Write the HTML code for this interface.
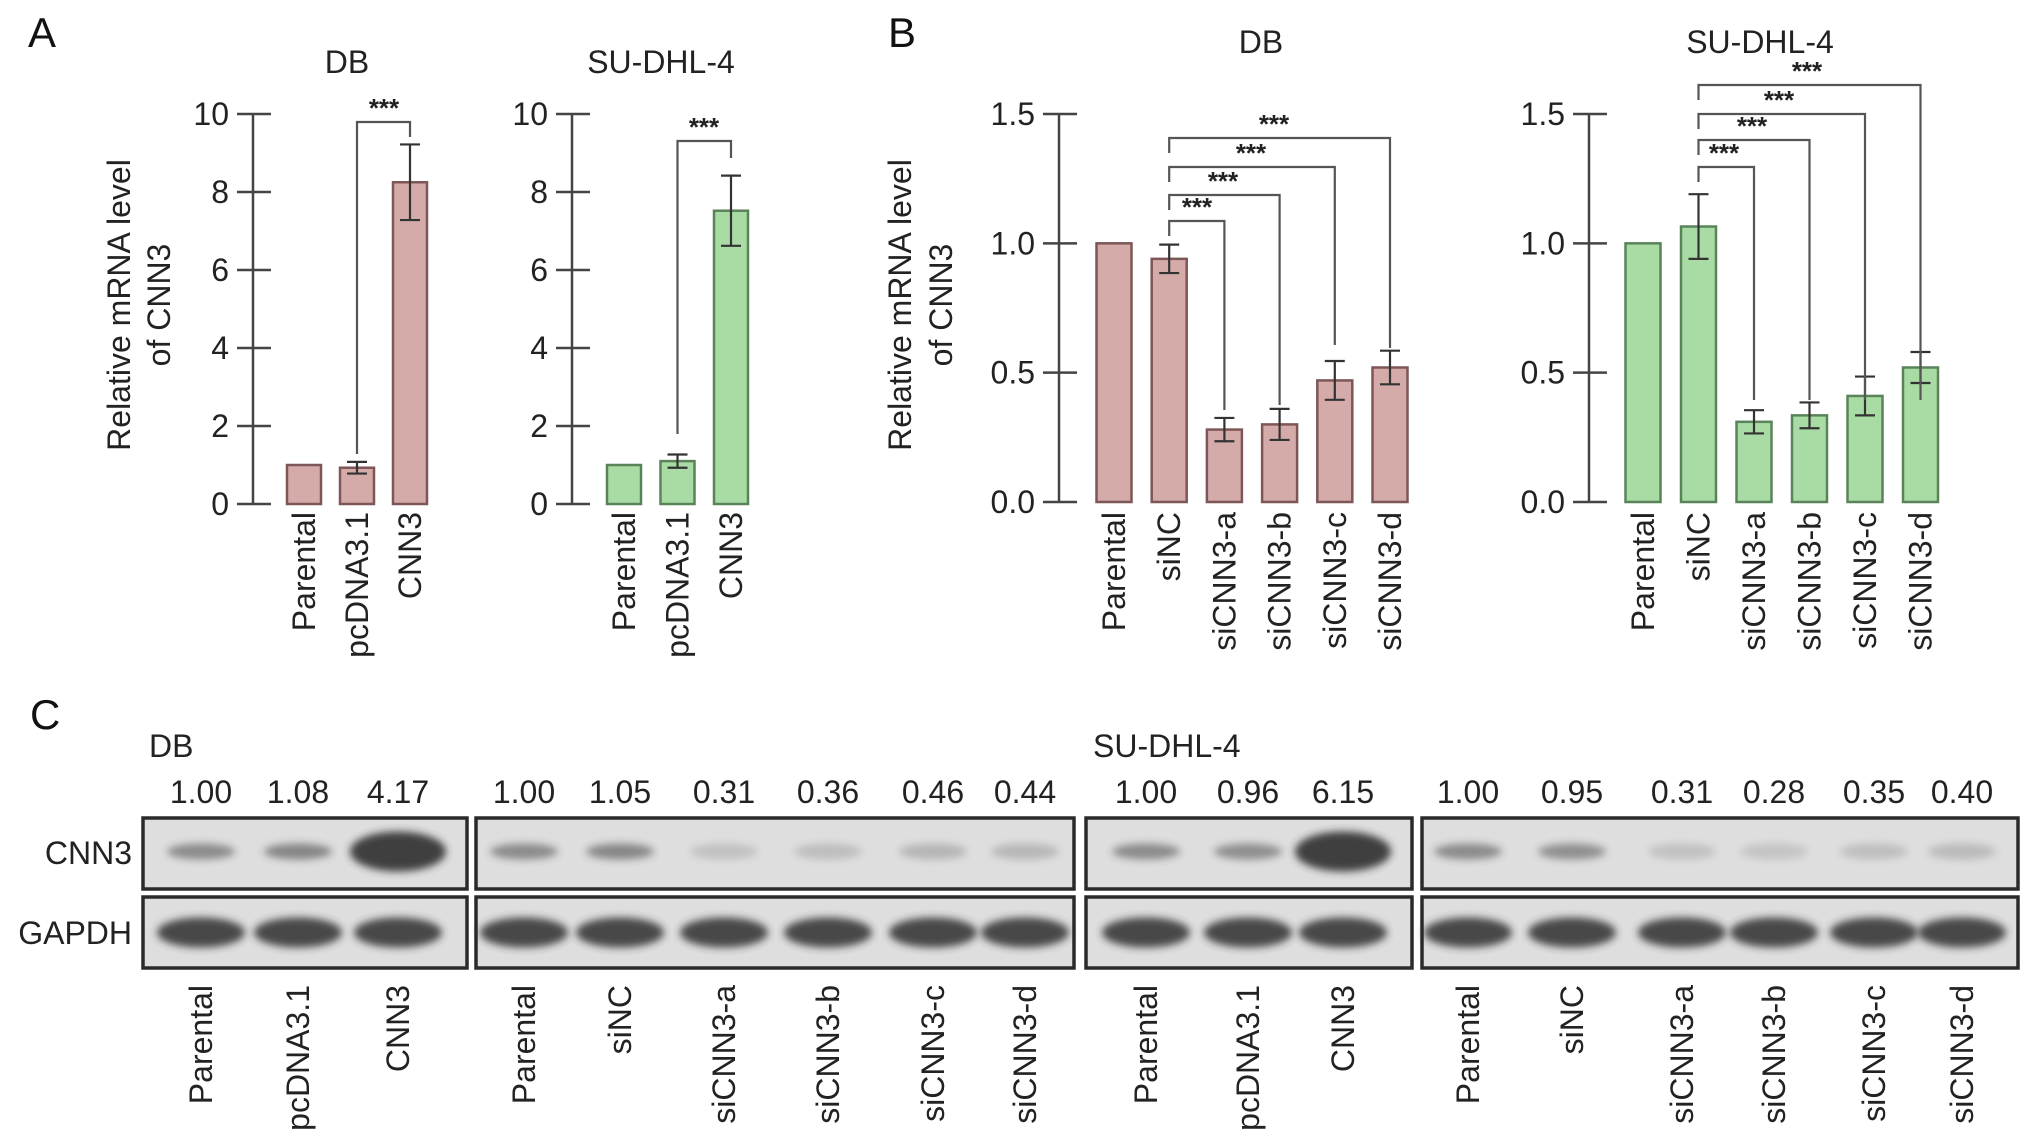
<!DOCTYPE html>
<html><head><meta charset="utf-8"><style>
html,body{margin:0;padding:0;background:#fff;}
svg{display:block;font-family:"Liberation Sans",Arial,sans-serif;}
</style></head><body>
<svg id="fig" width="2032" height="1146" viewBox="0 0 2032 1146" xmlns="http://www.w3.org/2000/svg">
<defs>
<filter id="blur" x="-50%" y="-50%" width="200%" height="200%"><feGaussianBlur stdDeviation="4"/></filter>
</defs>
<g id="root"></g>
</svg>
<script>
// ---- Panel A data ----
const catA = ["Parental","pcDNA3.1","CNN3"];
const dbA = [1.0, 0.93, 8.25];
const dbAerr = [0, 0.15, 0.97];
const suA = [1.0, 1.1, 7.52];
const suAerr = [0, 0.17, 0.9];
const ticksA = [0,2,4,6,8,10];
// ---- Panel B data ----
const catB = ["Parental","siNC","siCNN3-a","siCNN3-b","siCNN3-c","siCNN3-d"];
const dbB = [1.0, 0.94, 0.28, 0.30, 0.47, 0.52];
const dbBerr = [0, 0.055, 0.045, 0.06, 0.075, 0.065];
const suB = [1.0, 1.065, 0.31, 0.335, 0.41, 0.52];
const suBerr = [0, 0.125, 0.045, 0.05, 0.075, 0.06];
const ticksB = [0.0,0.5,1.0,1.5];
// ---- Panel C data ----
const dbOE = [1.00, 1.08, 4.17];
const dbKD = [1.00, 1.05, 0.31, 0.36, 0.46, 0.44];
const suOE = [1.00, 0.96, 6.15];
const suKD = [1.00, 0.95, 0.31, 0.28, 0.35, 0.40];

const NS="http://www.w3.org/2000/svg";
const root=document.getElementById('root');
function mk(tag,attrs,parent,text){const e=document.createElementNS(NS,tag);for(const k in attrs)e.setAttribute(k,attrs[k]);if(text!==undefined)e.textContent=text;(parent||root).appendChild(e);return e;}
const AX="#444";
const FS=32;

function barChart(o){
  const g=mk('g',{});
  
  
  const y=v=>o.y0-(v-o.min)/(o.max-o.min)*(o.y0-o.y1);
  const ax=mk('line',{x1:o.axX,x2:o.axX,y1:y(o.max),y2:y(o.min),stroke:AX,'stroke-width':2.5},g);
  
  
  o.ticks.forEach(t=>{
    const tl=mk('line',{x1:o.axX-16,x2:o.axX+18,y1:y(t),y2:y(t),stroke:AX,'stroke-width':2.5},g);
    
    
    const tx=mk('text',{x:o.axX-24,y:y(t)+11,'font-size':FS,'text-anchor':'end',fill:'#222'},g,o.fmt(t));
    
    
  });
  const t=mk('text',{x:o.titleX,y:o.titleY,'font-size':FS,'text-anchor':'middle',fill:'#222'},g,o.title);
  
  
  o.vals.forEach((v,i)=>{
    const cx=o.cx0+i*o.step;
    const r=mk('rect',{x:cx-o.bw/2,y:y(v),width:o.bw,height:y(0)-y(v),fill:o.fill,stroke:o.stroke,'stroke-width':2.5},g);
    
    
    const e=o.err[i];
    if(e>0){
      const eg=mk('g',{stroke:'#333','stroke-width':2.2},g);
      
      
      mk('line',{x1:cx,x2:cx,y1:y(v+e),y2:y(v-e)},eg);
      mk('line',{x1:cx-10,x2:cx+10,y1:y(v+e),y2:y(v+e)},eg);
      mk('line',{x1:cx-10,x2:cx+10,y1:y(v-e),y2:y(v-e)},eg);
    }
    const lx=cx+11;
    const lab=mk('text',{x:0,y:0,'font-size':FS,'text-anchor':'end',fill:'#222',transform:`translate(${lx},${o.labY}) rotate(-90)`},g,o.cats[i]);
    
    
  });
  o.brackets.forEach(b=>{
    const x1=o.cx0+b.from*o.step, x2=o.cx0+b.to*o.step;
    const bg=mk('g',{},g);
    
    
    mk('path',{d:`M${x1},${b.ly} V${b.y} H${x2} V${b.ry}`,fill:'none',stroke:'#555','stroke-width':2.2},bg);
    mk('text',{x:b.sx,y:b.y-5,'font-size':26,'text-anchor':'middle',fill:'#222','font-weight':'bold'},bg,'***');
  });
  return y;
}
const pink='#d5abaa', pinkS='#7d5757', green='#a9dca5', greenS='#5a835a';
barChart({name:'chart-a-db',cats:catA,vals:dbA,err:dbAerr,min:0,max:10,y0:504,y1:114,axX:253,ticks:ticksA,fmt:v=>String(v),
  title:'DB',titleX:347,titleY:73,cx0:304,step:53,bw:34,fill:pink,stroke:pinkS,labY:512,
  brackets:[{from:1,to:2,y:122,ly:454,ry:137,sx:384}]});
barChart({name:'chart-a-su',cats:catA,vals:suA,err:suAerr,min:0,max:10,y0:504,y1:114,axX:572,ticks:ticksA,fmt:v=>String(v),
  title:'SU-DHL-4',titleX:661,titleY:73,cx0:624,step:53.5,bw:34,fill:green,stroke:greenS,labY:512,
  brackets:[{from:1,to:2,y:141,ly:434,ry:158,sx:704}]});
barChart({name:'chart-b-db',cats:catB,vals:dbB,err:dbBerr,min:0,max:1.5,y0:502,y1:114,axX:1059,ticks:ticksB,fmt:v=>v.toFixed(1),
  title:'DB',titleX:1261,titleY:53,cx0:1114,step:55.2,bw:35,fill:pink,stroke:pinkS,labY:512,
  brackets:[{from:1,to:2,y:221,ly:236,ry:410,sx:1197},{from:1,to:3,y:195,ly:210,ry:405,sx:1223},{from:1,to:4,y:167,ly:182,ry:345,sx:1251},{from:1,to:5,y:138,ly:153,ry:348,sx:1274}]});
barChart({name:'chart-b-su',cats:catB,vals:suB,err:suBerr,min:0,max:1.5,y0:502,y1:114,axX:1589,ticks:ticksB,fmt:v=>v.toFixed(1),
  title:'SU-DHL-4',titleX:1760,titleY:53,cx0:1643,step:55.5,bw:35,fill:green,stroke:greenS,labY:512,
  brackets:[{from:1,to:2,y:167,ly:182,ry:400,sx:1724},{from:1,to:3,y:140,ly:155,ry:400,sx:1752},{from:1,to:4,y:114,ly:129,ry:400,sx:1779},{from:1,to:5,y:85,ly:100,ry:400,sx:1807}]});

// y titles
[[130,170,305,'a'],[911,952,305,'b']].forEach(([x1,x2,cy,p])=>{
  const t1=mk('text',{transform:`translate(${x1},${cy}) rotate(-90)`,'font-size':FS,'text-anchor':'middle',fill:'#222'},root,'Relative mRNA level');
  
  
  const t2=mk('text',{transform:`translate(${x2},${cy}) rotate(-90)`,'font-size':FS,'text-anchor':'middle',fill:'#222'},root,'of CNN3');
  
  
});
[['A',28,47],['B',888,47],['C',30,729]].forEach(([l,x,y])=>{
  const t=mk('text',{x:x,y:y,'font-size':42,fill:'#111'},root,l);
  
  
});

// ---- Panel C blots ----
const boxes=[
  {x0:143,x1:467,lanes:[201,298,398],vals:dbOE,cats:catA},
  {x0:476,x1:1074,lanes:[524,620,724,828,933,1025],vals:dbKD,cats:catB},
  {x0:1086,x1:1412,lanes:[1146,1248,1343],vals:suOE,cats:catA},
  {x0:1422,x1:2018,lanes:[1468,1572,1682,1774,1874,1962],vals:suKD,cats:catB}
];
const cg=mk('g',{});


[['DB',149,757],['SU-DHL-4',1093,757]].forEach(([s,x,y])=>{
  const t=mk('text',{x:x,y:y,'font-size':FS,fill:'#222'},cg,s);
  
  
});
[['CNN3',864],['GAPDH',944]].forEach(([s,y])=>{
  const t=mk('text',{x:132,y:y,'font-size':FS,'text-anchor':'end',fill:'#222'},cg,s);
  
  
});
boxes.forEach((b,bi)=>{
  [[818,889,'cnn3'],[897,968,'gapdh']].forEach(([y0,y1,row])=>{
    const r=mk('rect',{x:b.x0,y:y0,width:b.x1-b.x0,height:y1-y0,fill:'#dedede',stroke:'#2a2a2a','stroke-width':3.5},cg);
    
    
    b.lanes.forEach((lx,i)=>{
      let op,rx,ry;
      if(row==='gapdh'){op=0.85;rx=44;ry=15;}
      else{const v=b.vals[i];op=Math.min(0.9,0.02+0.45*Math.min(v,1.2)+(v>2?0.35:0));rx=v>2?48:34;ry=v>2?20:8;}
      const e=mk('ellipse',{cx:lx,cy:(y0+y1)/2+(row==='cnn3'?-2:0),rx:rx,ry:ry,fill:'#2e2e2e',opacity:op,filter:'url(#blur)'},cg);
      
      
    });
  });
  b.lanes.forEach((lx,i)=>{
    const n=mk('text',{x:lx,y:803,'font-size':FS,'text-anchor':'middle',fill:'#222'},cg,b.vals[i].toFixed(2));
    
    
    const l=mk('text',{transform:`translate(${lx+11},985) rotate(-90)`,'font-size':FS,'text-anchor':'end',fill:'#222'},cg,b.cats[i]);
    
    
  });
});
</script>
</body></html>
